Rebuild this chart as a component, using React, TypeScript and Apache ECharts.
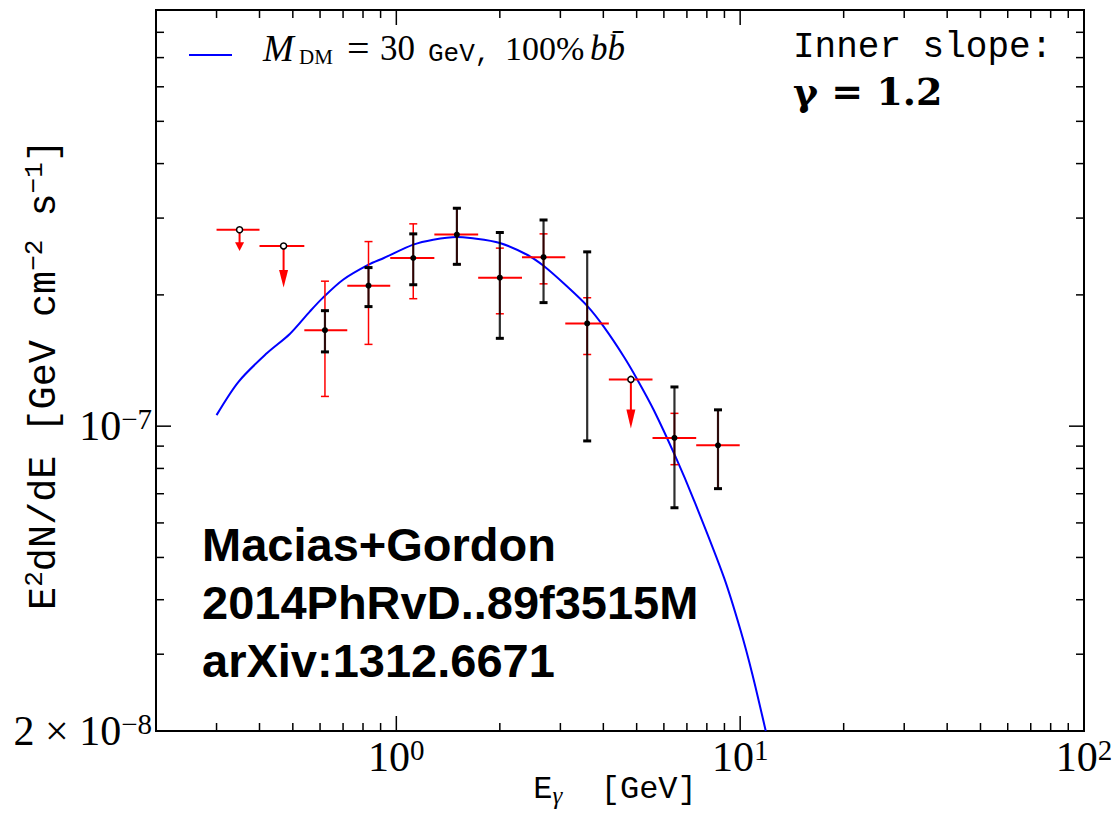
import React, { useEffect, useRef } from 'react';
import * as echarts from 'echarts';

// ---- axis ranges and ticks ----
const X_MIN = 0.2;
const X_MAX = 100;
const Y_MIN = 2e-8;
const Y_MAX = 9e-7;
const xMajorTicks = [1, 10, 100];
const xMinorTicks = [0.3, 0.4, 0.5, 0.6, 0.7, 0.8, 0.9, 2, 3, 4, 5, 6, 7, 8, 9, 20, 30, 40, 50, 60, 70, 80, 90];
const yMajorTicks = [1e-7];
const yMinorTicks = [3e-8, 4e-8, 5e-8, 6e-8, 7e-8, 8e-8, 9e-8, 2e-7, 3e-7, 4e-7, 5e-7, 6e-7, 7e-7, 8e-7];
const yLabelTicks = [2e-8, 1e-7];
const yTickLabels = ['{b|2 × 10}{s|−8}', '{b|10}{s|−7}'];

// ---- model curve: M_DM = 30 GeV, 100% b bbar ----
const curveE = [0.30, 0.3475, 0.42, 0.49, 0.56, 0.61, 0.70, 0.83, 0.92, 1.12, 1.28, 1.50, 1.64, 2.00, 2.40, 2.68, 3.14, 3.59, 4.01, 4.59, 5.02, 5.61, 6.49, 7.34, 8.97, 10.03, 10.85, 11.87];
const curveFlux = [1.06e-7, 1.264e-7, 1.469e-7, 1.627e-7, 1.831e-7, 1.966e-7, 2.166e-7, 2.345e-7, 2.43e-7, 2.607e-7, 2.677e-7, 2.716e-7, 2.70e-7, 2.63e-7, 2.472e-7, 2.332e-7, 2.09e-7, 1.887e-7, 1.691e-7, 1.443e-7, 1.28e-7, 1.088e-7, 8.5e-8, 6.76e-8, 4.5e-8, 3.4e-8, 2.7e-8, 2.0e-8];

// ---- detected points (Macias+Gordon) ----
const detE = [0.62, 0.83, 1.12, 1.50, 2.00, 2.68, 3.59, 6.44, 8.62];
const detELo = [0.54, 0.72, 0.96, 1.29, 1.73, 2.32, 3.10, 5.56, 7.45];
const detEHi = [0.72, 0.96, 1.29, 1.73, 2.32, 3.10, 4.15, 7.45, 9.97];
const detFlux = [1.66e-7, 2.10e-7, 2.43e-7, 2.75e-7, 2.19e-7, 2.44e-7, 1.72e-7, 9.40e-8, 9.04e-8];
const detRedLo = [1.17e-7, 1.54e-7, 1.96e-7, 2.35e-7, 1.81e-7, 2.12e-7, 1.46e-7, 8.16e-8, 7.19e-8];
const detRedHi = [2.15e-7, 2.65e-7, 2.91e-7, 3.16e-7, 2.56e-7, 2.76e-7, 1.97e-7, 1.07e-7, 1.09e-7];
const detBlackLo = [1.48e-7, 1.88e-7, 2.11e-7, 2.35e-7, 1.59e-7, 1.92e-7, 9.25e-8, 6.50e-8, 7.19e-8];
const detBlackHi = [1.84e-7, 2.31e-7, 2.76e-7, 3.16e-7, 2.78e-7, 2.97e-7, 2.51e-7, 1.23e-7, 1.09e-7];

// ---- upper limits ----
const ulE = [0.35, 0.47, 4.81];
const ulELo = [0.30, 0.40, 4.15];
const ulEHi = [0.40, 0.54, 5.56];
const ulFlux = [2.82e-7, 2.59e-7, 1.28e-7];
const ulTip = [2.52e-7, 2.08e-7, 9.88e-8];

const MODEL_NAME = 'M_DM = 30 GeV, 100% bb';
const LEGEND_TEXT = '{mi|M}{sub|DM}{eq|=}{rm2|30}{tt|GeV,}{rm3|100%}{mb|bb\u0304}';

function powerOf10(v: number): number | null {
  const l = Math.log10(v);
  const r = Math.round(l);
  return Math.abs(l - r) < 1e-6 ? r : null;
}

function tickRenderer(axis: 'x' | 'y', len: number) {
  return (params: any, api: any) => {
    const cs = params.coordSys;
    const style = { stroke: '#000', lineWidth: 1.5 };
    if (axis === 'x') {
      const px = api.coord([api.value(0), Y_MIN])[0];
      return {
        type: 'group',
        children: [
          { type: 'line', shape: { x1: px, y1: cs.y + cs.height, x2: px, y2: cs.y + cs.height - len }, style },
          { type: 'line', shape: { x1: px, y1: cs.y, x2: px, y2: cs.y + len }, style },
        ],
      };
    }
    const py = api.coord([X_MIN, api.value(1)])[1];
    return {
      type: 'group',
      children: [
        { type: 'line', shape: { x1: cs.x, y1: py, x2: cs.x + len, y2: py }, style },
        { type: 'line', shape: { x1: cs.x + cs.width, y1: py, x2: cs.x + cs.width - len, y2: py }, style },
      ],
    };
  };
}

function renderDetection(params: any, api: any) {
  const x = api.value(0);
  const y = api.value(1);
  const c = api.coord([x, y]);
  const xl = api.coord([api.value(2), y])[0];
  const xh = api.coord([api.value(3), y])[0];
  const rLo = api.coord([x, api.value(4)])[1];
  const rHi = api.coord([x, api.value(5)])[1];
  const bLo = api.coord([x, api.value(6)])[1];
  const bHi = api.coord([x, api.value(7)])[1];
  const red = '#ff0000';
  const redS = { stroke: red, lineWidth: 1.5 };
  const capW = 4;
  return {
    type: 'group',
    children: [
      { type: 'line', shape: { x1: c[0], y1: rHi, x2: c[0], y2: rLo }, style: redS },
      { type: 'line', shape: { x1: c[0] - capW, y1: rHi, x2: c[0] + capW, y2: rHi }, style: redS },
      { type: 'line', shape: { x1: c[0] - capW, y1: rLo, x2: c[0] + capW, y2: rLo }, style: redS },
      { type: 'line', shape: { x1: xl, y1: c[1], x2: xh, y2: c[1] }, style: { stroke: red, lineWidth: 2 } },
      { type: 'line', shape: { x1: c[0], y1: bHi, x2: c[0], y2: bLo }, style: { stroke: 'rgba(0,0,0,0.82)', lineWidth: 2.2 } },
      { type: 'rect', shape: { x: c[0] - capW, y: bHi - 1.5, width: capW * 2, height: 3 }, style: { fill: '#000' } },
      { type: 'rect', shape: { x: c[0] - capW, y: bLo - 1.5, width: capW * 2, height: 3 }, style: { fill: '#000' } },
      { type: 'circle', shape: { cx: c[0], cy: c[1], r: 3 }, style: { fill: '#000' } },
    ],
  };
}

function renderUpperLimit(params: any, api: any) {
  const x = api.value(0);
  const y = api.value(1);
  const c = api.coord([x, y]);
  const xl = api.coord([api.value(2), y])[0];
  const xh = api.coord([api.value(3), y])[0];
  const tip = api.coord([x, api.value(4)])[1];
  const red = '#ff0000';
  const len = tip - c[1];
  const head = Math.min(19, len * 0.42);
  return {
    type: 'group',
    children: [
      { type: 'line', shape: { x1: xl, y1: c[1], x2: xh, y2: c[1] }, style: { stroke: red, lineWidth: 2 } },
      { type: 'line', shape: { x1: c[0], y1: c[1], x2: c[0], y2: tip - head + 1 }, style: { stroke: red, lineWidth: 2 } },
      {
        type: 'polygon',
        shape: { points: [[c[0] - 4.5, tip - head], [c[0] + 4.5, tip - head], [c[0], tip]] },
        style: { fill: red },
      },
      { type: 'circle', shape: { cx: c[0], cy: c[1], r: 3 }, style: { fill: '#fff', stroke: '#000', lineWidth: 1.5 } },
    ],
  };
}

export default function App() {
  const ref = useRef<HTMLDivElement>(null);
  useEffect(() => {
    if (!ref.current) return;
    const chart = echarts.init(ref.current, null, { renderer: 'svg' });
    const serif = 'Liberation Serif';
    const mono = 'Liberation Mono';
    const option: any = {
      animation: false,
      backgroundColor: '#fff',
      grid: {
        left: 156,
        right: 29,
        top: 10,
        bottom: 88,
        show: true,
        borderColor: '#000',
        borderWidth: 2,
        backgroundColor: 'transparent',
        outerBoundsMode: 'none',
      },
      xAxis: {
        type: 'log',
        logBase: 10,
        min: X_MIN,
        max: X_MAX,
        axisLine: { show: false },
        axisTick: { show: false },
        splitLine: { show: false },
        axisLabel: {
          margin: 4,
          color: '#000',
          formatter: (v: number) => {
            const k = powerOf10(v);
            if (k === null || !xMajorTicks.some((t) => Math.abs(t / v - 1) < 1e-6)) return '';
            return `{b|10}{s|${k}}`;
          },
          rich: {
            b: { fontFamily: serif, fontSize: 42, lineHeight: 44, color: '#000' },
            s: { fontFamily: serif, fontSize: 29, lineHeight: 29, verticalAlign: 'top', color: '#000' },
          },
        },
        name: '{n|E}{g|γ}{n|  [GeV]}',
        nameLocation: 'middle',
        nameGap: 39,
        nameMoveOverlap: false,
        nameTextStyle: {
          padding: [0, 10, 0, 0],
          rich: {
            n: { fontFamily: mono, fontSize: 32, lineHeight: 38, color: '#000', verticalAlign: 'middle' },
            g: { fontFamily: serif, fontStyle: 'italic', fontSize: 25, lineHeight: 25, color: '#000', verticalAlign: 'bottom' },
          },
        },
      },
      yAxis: {
        type: 'log',
        logBase: 10,
        min: Y_MIN,
        max: Y_MAX,
        axisLine: { show: false },
        axisTick: { show: false },
        splitLine: { show: false },
        axisLabel: {
          margin: 4,
          color: '#000',
          formatter: (v: number) => {
            const i = yLabelTicks.findIndex((t) => Math.abs(t / v - 1) < 1e-6);
            return i < 0 ? '' : yTickLabels[i];
          },
          rich: {
            b: { fontFamily: serif, fontSize: 42, lineHeight: 44, color: '#000' },
            s: { fontFamily: serif, fontSize: 29, lineHeight: 29, verticalAlign: 'top', color: '#000' },
          },
        },
        name: '{n|E}{s|2}{n|dN/dE [GeV cm}{s|−2}{n| s}{s|−1}{n|]}',
        nameLocation: 'middle',
        nameRotate: 90,
        nameGap: 88,
        nameMoveOverlap: false,
        nameTextStyle: {
          padding: [0, 8, 0, 0],
          rich: {
            n: { fontFamily: mono, fontSize: 38.5, lineHeight: 46, color: '#000', verticalAlign: 'middle' },
            s: { fontFamily: mono, fontSize: 26, lineHeight: 26, color: '#000', verticalAlign: 'top' },
          },
        },
      },
      graphic: [
        {
          type: 'line',
          shape: { x1: 189, y1: 55, x2: 232, y2: 55 },
          style: { stroke: '#0000ff', lineWidth: 2 },
        },
        {
          type: 'text',
          x: 263,
          y: 48,
          style: {
            text: LEGEND_TEXT,
            verticalAlign: 'middle',
            align: 'left',
            fill: '#000',
            rich: {
              mi: { fontFamily: serif, fontStyle: 'italic', fontSize: 37, lineHeight: 38, fill: '#000', width: 36 },
              sub: { fontFamily: serif, fontSize: 21, lineHeight: 24, verticalAlign: 'bottom', fill: '#000', width: 48 },
              eq: { fontFamily: serif, fontSize: 40, lineHeight: 38, fill: '#000', width: 33 },
              rm2: { fontFamily: serif, fontSize: 35, lineHeight: 38, fill: '#000', width: 48 },
              tt: { fontFamily: mono, fontSize: 26, lineHeight: 31, verticalAlign: 'bottom', fill: '#000', width: 77 },
              rm3: { fontFamily: serif, fontSize: 34, lineHeight: 38, fill: '#000', width: 85 },
              mb: { fontFamily: serif, fontStyle: 'italic', fontSize: 35, lineHeight: 38, fill: '#000' },
            },
          },
        },
        {
          type: 'text',
          left: 793,
          top: 29,
          style: { text: 'Inner slope:', font: `36px "${mono}"`, fill: '#000' },
        },
        {
          type: 'text',
          left: 793,
          top: 72,
          style: { text: 'γ = 1.2', font: 'bold 38px "DejaVu Serif"', fill: '#000' },
        },
        {
          type: 'text',
          left: 202,
          top: 515,
          style: {
            text: 'Macias+Gordon\n2014PhRvD..89f3515M\narXiv:1312.6671',
            font: 'bold 47px "Liberation Sans"',
            lineHeight: 58,
            fill: '#000',
          },
        },
      ],
      series: [
        {
          type: 'custom',
          name: 'xMajor',
          renderItem: tickRenderer('x', 15),
          data: xMajorTicks.map((v) => [v, Y_MIN]),
          silent: true,
          z: 1,
        },
        {
          type: 'custom',
          name: 'xMinor',
          renderItem: tickRenderer('x', 8),
          data: xMinorTicks.map((v) => [v, Y_MIN]),
          silent: true,
          z: 1,
        },
        {
          type: 'custom',
          name: 'yMajor',
          renderItem: tickRenderer('y', 15),
          data: yMajorTicks.map((v) => [X_MIN, v]),
          silent: true,
          z: 1,
        },
        {
          type: 'custom',
          name: 'yMinor',
          renderItem: tickRenderer('y', 8),
          data: yMinorTicks.map((v) => [X_MIN, v]),
          silent: true,
          z: 1,
        },
        {
          type: 'line',
          name: MODEL_NAME,
          data: curveE.map((e, i) => [e, curveFlux[i]]),
          showSymbol: false,
          symbol: 'none',
          smooth: 0.3,
          color: '#0000ff',
          lineStyle: { color: '#0000ff', width: 2 },
          z: 2,
        },
        {
          type: 'custom',
          name: 'detections',
          renderItem: renderDetection,
          data: detE.map((e, i) => [e, detFlux[i], detELo[i], detEHi[i], detRedLo[i], detRedHi[i], detBlackLo[i], detBlackHi[i]]),
          z: 3,
        },
        {
          type: 'custom',
          name: 'upper limits',
          renderItem: renderUpperLimit,
          data: ulE.map((e, i) => [e, ulFlux[i], ulELo[i], ulEHi[i], ulTip[i]]),
          z: 3,
        },
      ],
    };
    chart.setOption(option);
    return () => chart.dispose();
  }, []);
  return (
    <div
      ref={ref}
      style={{ position: 'fixed', left: 0, top: 0, width: 1113, height: 819, background: '#fff' }}
    />
  );
}
